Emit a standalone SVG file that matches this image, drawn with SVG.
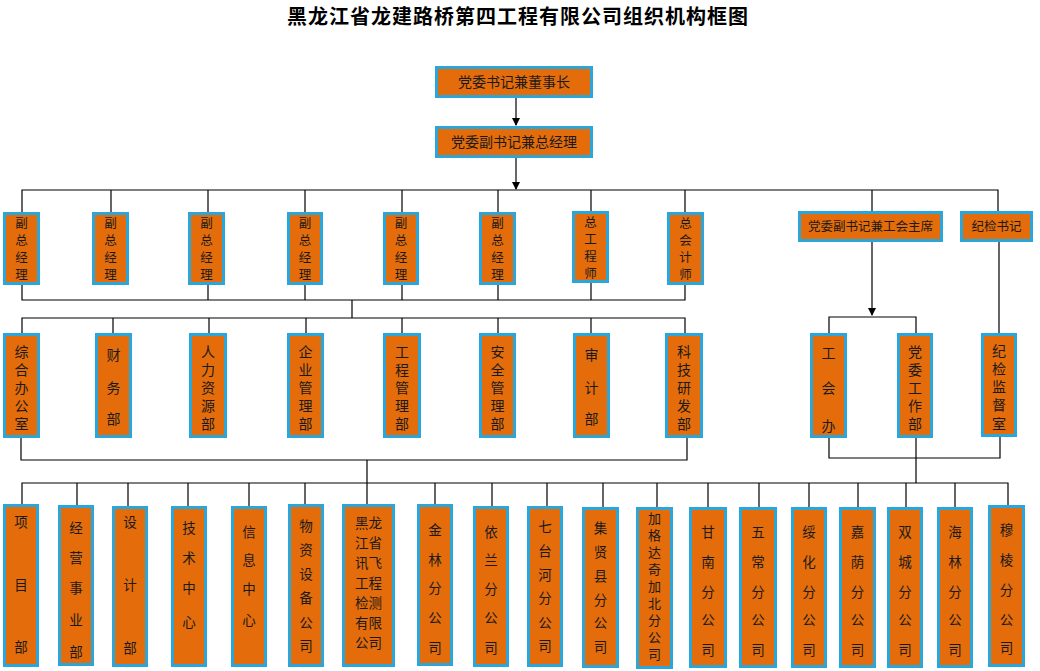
<svg xmlns="http://www.w3.org/2000/svg" width="1040" height="671" viewBox="0 0 1040 671">
<defs>
<marker id="arr" markerWidth="8" markerHeight="8" refX="7" refY="4" orient="auto" markerUnits="userSpaceOnUse">
<path d="M0,0 L8,4 L0,8 Z" fill="#000"/>
</marker>
<style>
.box{fill:#e46c0a;stroke:#2aa6db;stroke-width:3}
.t{font-family:"Noto Sans CJK SC","Noto Sans CJK JP",sans-serif;fill:#1a1a1a;text-anchor:middle}
.h{font-size:14px}
.h2{font-size:12.5px}
.v1{font-size:12.5px}
.v2{font-size:14px}
.v3{font-size:13.5px}
.v4{font-size:13px}
.ln{stroke:#000;stroke-width:1.2;fill:none}
.title{font-family:"Noto Sans CJK SC",sans-serif;font-weight:bold;font-size:20px;letter-spacing:1px;fill:#000;text-anchor:middle}
</style>
</defs>
<rect width="1040" height="671" fill="#fff"/>
<text class="title" x="518" y="23.5">黑龙江省龙建路桥第四工程有限公司组织机构框图</text>

<g id="connectors">
<line class="ln" x1="516" y1="98" x2="516" y2="125" marker-end="url(#arr)"/>
<line class="ln" x1="516" y1="158" x2="516" y2="189" marker-end="url(#arr)"/>
<path class="ln" d="M22,212 V190 H998 V211 M111,190 V212 M208,190 V212 M305,190 V212 M402,190 V212 M498,190 V212 M591,190 V211 M685,190 V212 M872,190 V211"/>
<path class="ln" d="M22,285 V300 H685 V285 M208,285 V300 M305,285 V300 M402,285 V300 M498,285 V300 M591,283 V300 M352,300 V318"/>
<path class="ln" d="M22,333 V318 H685 V333 M113,318 V333 M209,318 V333 M306,318 V333 M402,318 V333 M498,318 V333 M591,318 V333"/>
<path class="ln" d="M21,438 V460 H687 V438 M367,460 V504"/>
<line class="ln" x1="872" y1="242" x2="872" y2="315" marker-end="url(#arr)"/>
<path class="ln" d="M829,333 V317 H916 V333 M999,242 V333"/>
<path class="ln" d="M829,438 V458 H1000 V437 M916,438 V483"/>
<path class="ln" d="M22,504 V483 H1008 V505 M77,483 V505 M128,483 V506 M188,483 V506 M249,483 V506 M305,483 V504 M435,483 V504 M492,483 V506 M547,483 V506 M603,483 V507 M657,483 V507 M708,483 V507 M759,483 V507 M809,483 V507 M858,483 V507 M906,483 V507 M955,483 V507"/>
</g>

<g id="n-chairman"><rect class="box" x="436.5" y="67.5" width="155" height="29"/><text class="t h" x="514" y="87">党委书记兼董事长</text></g>
<g id="n-gm"><rect class="box" x="436.5" y="127.5" width="155" height="29"/><text class="t h" x="514" y="147">党委副书记兼总经理</text></g>

<g id="n-vgm1"><rect class="box" x="4.5" y="213.5" width="34" height="70"/><text class="t v1"><tspan x="21.5" y="227.8">副</tspan><tspan x="21.5" y="244.8">总</tspan><tspan x="21.5" y="261.8">经</tspan><tspan x="21.5" y="278.8">理</tspan></text></g>
<g id="n-vgm2"><rect class="box" x="93.5" y="213.5" width="34" height="70"/><text class="t v1"><tspan x="110.5" y="227.8">副</tspan><tspan x="110.5" y="244.8">总</tspan><tspan x="110.5" y="261.8">经</tspan><tspan x="110.5" y="278.8">理</tspan></text></g>
<g id="n-vgm3"><rect class="box" x="189.5" y="213.5" width="34" height="70"/><text class="t v1"><tspan x="206.5" y="227.8">副</tspan><tspan x="206.5" y="244.8">总</tspan><tspan x="206.5" y="261.8">经</tspan><tspan x="206.5" y="278.8">理</tspan></text></g>
<g id="n-vgm4"><rect class="box" x="288.5" y="213.5" width="33" height="70"/><text class="t v1"><tspan x="305" y="227.8">副</tspan><tspan x="305" y="244.8">总</tspan><tspan x="305" y="261.8">经</tspan><tspan x="305" y="278.8">理</tspan></text></g>
<g id="n-vgm5"><rect class="box" x="384.5" y="213.5" width="33" height="70"/><text class="t v1"><tspan x="401" y="227.8">副</tspan><tspan x="401" y="244.8">总</tspan><tspan x="401" y="261.8">经</tspan><tspan x="401" y="278.8">理</tspan></text></g>
<g id="n-vgm6"><rect class="box" x="480.5" y="213.5" width="34" height="70"/><text class="t v1"><tspan x="497.5" y="227.8">副</tspan><tspan x="497.5" y="244.8">总</tspan><tspan x="497.5" y="261.8">经</tspan><tspan x="497.5" y="278.8">理</tspan></text></g>
<g id="n-ce"><rect class="box" x="573.5" y="212.5" width="34" height="69"/><text class="t v1"><tspan x="590.5" y="226.8">总</tspan><tspan x="590.5" y="243.8">工</tspan><tspan x="590.5" y="260.8">程</tspan><tspan x="590.5" y="277.8">师</tspan></text></g>
<g id="n-ca"><rect class="box" x="668.5" y="213.5" width="34" height="70"/><text class="t v1"><tspan x="685.5" y="227.8">总</tspan><tspan x="685.5" y="244.8">会</tspan><tspan x="685.5" y="261.8">计</tspan><tspan x="685.5" y="278.8">师</tspan></text></g>
<g id="n-union-chair"><rect class="box" x="799.5" y="212.5" width="142" height="28"/><text class="t h2" x="870.5" y="231">党委副书记兼工会主席</text></g>
<g id="n-discipline"><rect class="box" x="961.5" y="212.5" width="70" height="28"/><text class="t h2" x="996.5" y="231">纪检书记</text></g>

<g id="n-office"><rect class="box" x="4.5" y="334.5" width="34" height="102"/><text class="t v2"><tspan x="21.5" y="357">综</tspan><tspan x="21.5" y="375">合</tspan><tspan x="21.5" y="393">办</tspan><tspan x="21.5" y="411">公</tspan><tspan x="21.5" y="429">室</tspan></text></g>
<g id="n-finance"><rect class="box" x="96.5" y="334.5" width="34" height="102"/><text class="t v2"><tspan x="113.5" y="360">财</tspan><tspan x="113.5" y="393">务</tspan><tspan x="113.5" y="424">部</tspan></text></g>
<g id="n-hr"><rect class="box" x="190.5" y="334.5" width="35" height="102"/><text class="t v2"><tspan x="208" y="357">人</tspan><tspan x="208" y="375">力</tspan><tspan x="208" y="393">资</tspan><tspan x="208" y="411">源</tspan><tspan x="208" y="429">部</tspan></text></g>
<g id="n-enterprise"><rect class="box" x="288.5" y="334.5" width="34" height="102"/><text class="t v2"><tspan x="305.5" y="357">企</tspan><tspan x="305.5" y="375">业</tspan><tspan x="305.5" y="393">管</tspan><tspan x="305.5" y="411">理</tspan><tspan x="305.5" y="429">部</tspan></text></g>
<g id="n-engineering"><rect class="box" x="384.5" y="334.5" width="35" height="102"/><text class="t v2"><tspan x="402" y="357">工</tspan><tspan x="402" y="375">程</tspan><tspan x="402" y="393">管</tspan><tspan x="402" y="411">理</tspan><tspan x="402" y="429">部</tspan></text></g>
<g id="n-safety"><rect class="box" x="480.5" y="334.5" width="34" height="102"/><text class="t v2"><tspan x="497.5" y="357">安</tspan><tspan x="497.5" y="375">全</tspan><tspan x="497.5" y="393">管</tspan><tspan x="497.5" y="411">理</tspan><tspan x="497.5" y="429">部</tspan></text></g>
<g id="n-audit"><rect class="box" x="574.5" y="334.5" width="34" height="102"/><text class="t v2"><tspan x="591.5" y="360">审</tspan><tspan x="591.5" y="393">计</tspan><tspan x="591.5" y="424">部</tspan></text></g>
<g id="n-rnd"><rect class="box" x="666.5" y="334.5" width="35" height="102"/><text class="t v2"><tspan x="684" y="357">科</tspan><tspan x="684" y="375">技</tspan><tspan x="684" y="393">研</tspan><tspan x="684" y="411">发</tspan><tspan x="684" y="429">部</tspan></text></g>
<g id="n-union"><rect class="box" x="811.5" y="334.5" width="34" height="102"/><text class="t v2"><tspan x="828.5" y="358">工</tspan><tspan x="828.5" y="393">会</tspan><tspan x="828.5" y="431">办</tspan></text></g>
<g id="n-party"><rect class="box" x="898.5" y="334.5" width="33" height="102"/><text class="t v2"><tspan x="915" y="357">党</tspan><tspan x="915" y="375">委</tspan><tspan x="915" y="393">工</tspan><tspan x="915" y="411">作</tspan><tspan x="915" y="429">部</tspan></text></g>
<g id="n-supervision"><rect class="box" x="982.5" y="334.5" width="33" height="101"/><text class="t v2"><tspan x="999" y="356">纪</tspan><tspan x="999" y="374">检</tspan><tspan x="999" y="392">监</tspan><tspan x="999" y="410">督</tspan><tspan x="999" y="429">室</tspan></text></g>

<g id="n-project"><rect class="box" x="4.5" y="505.5" width="33" height="160"/><text class="t v3"><tspan x="21" y="527">项</tspan><tspan x="21" y="590">目</tspan><tspan x="21" y="652">部</tspan></text></g>
<g id="n-business"><rect class="box" x="59.5" y="506.5" width="33" height="158"/><text class="t v3"><tspan x="76" y="533">经</tspan><tspan x="76" y="563">营</tspan><tspan x="76" y="593">事</tspan><tspan x="76" y="625">业</tspan><tspan x="76" y="657">部</tspan></text></g>
<g id="n-design"><rect class="box" x="113.5" y="507.5" width="33" height="158"/><text class="t v3"><tspan x="130" y="527">设</tspan><tspan x="130" y="590">计</tspan><tspan x="130" y="653">部</tspan></text></g>
<g id="n-tech"><rect class="box" x="172.5" y="507.5" width="33" height="158"/><text class="t v3"><tspan x="189" y="533">技</tspan><tspan x="189" y="563">术</tspan><tspan x="189" y="593">中</tspan><tspan x="189" y="627">心</tspan></text></g>
<g id="n-info"><rect class="box" x="232.5" y="507.5" width="33" height="158"/><text class="t v3"><tspan x="249" y="537">信</tspan><tspan x="249" y="565">息</tspan><tspan x="249" y="594">中</tspan><tspan x="249" y="625">心</tspan></text></g>
<g id="n-materials"><rect class="box" x="289.5" y="505.5" width="33" height="160"/><text class="t v3"><tspan x="306" y="531">物</tspan><tspan x="306" y="555">资</tspan><tspan x="306" y="579">设</tspan><tspan x="306" y="603">备</tspan><tspan x="306" y="628">公</tspan><tspan x="306" y="651">司</tspan></text></g>
<g id="n-xunfei"><rect class="box" x="343.5" y="505.5" width="50" height="160"/><text class="t v3"><tspan x="368.5" y="528">黑龙</tspan><tspan x="368.5" y="548">江省</tspan><tspan x="368.5" y="568">讯飞</tspan><tspan x="368.5" y="588">工程</tspan><tspan x="368.5" y="608">检测</tspan><tspan x="368.5" y="628">有限</tspan><tspan x="368.5" y="648">公司</tspan></text></g>
<g id="n-jinlin"><rect class="box" x="418.5" y="505.5" width="33" height="159"/><text class="t v3"><tspan x="435" y="535">金</tspan><tspan x="435" y="565">林</tspan><tspan x="435" y="593">分</tspan><tspan x="435" y="623">公</tspan><tspan x="435" y="653">司</tspan></text></g>
<g id="n-yilan"><rect class="box" x="474.5" y="507.5" width="33" height="158"/><text class="t v3"><tspan x="491" y="537">依</tspan><tspan x="491" y="565">兰</tspan><tspan x="491" y="594">分</tspan><tspan x="491" y="623">公</tspan><tspan x="491" y="653">司</tspan></text></g>
<g id="n-qitaihe"><rect class="box" x="528.5" y="507.5" width="33" height="158"/><text class="t v3"><tspan x="545" y="532">七</tspan><tspan x="545" y="556">台</tspan><tspan x="545" y="580">河</tspan><tspan x="545" y="603">分</tspan><tspan x="545" y="628">公</tspan><tspan x="545" y="651">司</tspan></text></g>
<g id="n-jixian"><rect class="box" x="583.5" y="508.5" width="34" height="158"/><text class="t v3"><tspan x="600.5" y="533">集</tspan><tspan x="600.5" y="557">贤</tspan><tspan x="600.5" y="581">县</tspan><tspan x="600.5" y="605">分</tspan><tspan x="600.5" y="628">公</tspan><tspan x="600.5" y="652">司</tspan></text></g>
<g id="n-jiagedaqi"><rect class="box" x="637.5" y="508.5" width="34" height="159"/><text class="t v4"><tspan x="654.5" y="523">加</tspan><tspan x="654.5" y="540">格</tspan><tspan x="654.5" y="557">达</tspan><tspan x="654.5" y="574">奇</tspan><tspan x="654.5" y="591">加</tspan><tspan x="654.5" y="608">北</tspan><tspan x="654.5" y="625">分</tspan><tspan x="654.5" y="642">公</tspan><tspan x="654.5" y="659">司</tspan></text></g>
<g id="n-gannan"><rect class="box" x="690.5" y="508.5" width="35" height="158"/><text class="t v3"><tspan x="708" y="537">甘</tspan><tspan x="708" y="567">南</tspan><tspan x="708" y="597">分</tspan><tspan x="708" y="625">公</tspan><tspan x="708" y="655">司</tspan></text></g>
<g id="n-wuchang"><rect class="box" x="740.5" y="508.5" width="35" height="158"/><text class="t v3"><tspan x="758" y="537">五</tspan><tspan x="758" y="567">常</tspan><tspan x="758" y="597">分</tspan><tspan x="758" y="625">公</tspan><tspan x="758" y="655">司</tspan></text></g>
<g id="n-suihua"><rect class="box" x="792.5" y="508.5" width="33" height="158"/><text class="t v3"><tspan x="809" y="537">绥</tspan><tspan x="809" y="567">化</tspan><tspan x="809" y="597">分</tspan><tspan x="809" y="625">公</tspan><tspan x="809" y="655">司</tspan></text></g>
<g id="n-jiayin"><rect class="box" x="840.5" y="508.5" width="34" height="158"/><text class="t v3"><tspan x="857.5" y="537">嘉</tspan><tspan x="857.5" y="567">荫</tspan><tspan x="857.5" y="597">分</tspan><tspan x="857.5" y="625">公</tspan><tspan x="857.5" y="655">司</tspan></text></g>
<g id="n-shuangcheng"><rect class="box" x="888.5" y="508.5" width="33" height="158"/><text class="t v3"><tspan x="905" y="537">双</tspan><tspan x="905" y="567">城</tspan><tspan x="905" y="597">分</tspan><tspan x="905" y="625">公</tspan><tspan x="905" y="655">司</tspan></text></g>
<g id="n-hailin"><rect class="box" x="938.5" y="508.5" width="33" height="158"/><text class="t v3"><tspan x="955" y="537">海</tspan><tspan x="955" y="567">林</tspan><tspan x="955" y="597">分</tspan><tspan x="955" y="625">公</tspan><tspan x="955" y="655">司</tspan></text></g>
<g id="n-muling"><rect class="box" x="989.5" y="506.5" width="34" height="159"/><text class="t v3"><tspan x="1006.5" y="535">穆</tspan><tspan x="1006.5" y="565">棱</tspan><tspan x="1006.5" y="595">分</tspan><tspan x="1006.5" y="625">公</tspan><tspan x="1006.5" y="653">司</tspan></text></g>
</svg>
